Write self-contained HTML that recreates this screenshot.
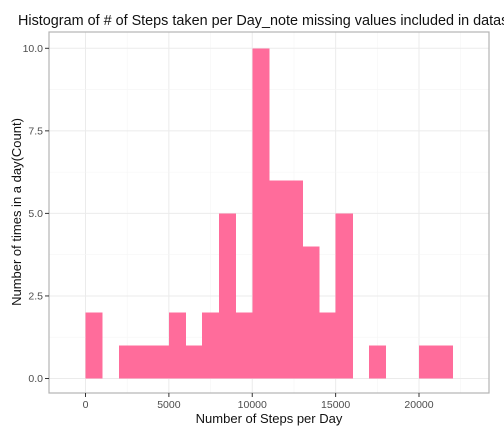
<!DOCTYPE html>
<html><head><style>body{margin:0;background:#fff}svg{display:block;font-family:"Liberation Sans",sans-serif}</style></head>
<body>
<svg id="c" width="504" height="432"></svg>
<script>
const binStarts=[0,1000,2000,3000,4000,5000,6000,7000,8000,9000,10000,11000,12000,13000,14000,15000,16000,17000,18000,19000,20000,21000];
const counts=[2,0,1,1,1,2,1,2,5,2,10,6,6,4,2,5,0,1,0,0,1,1];
const binWidth=1000;
const xTicks=[0,5000,10000,15000,20000];
const yTicks=[0,2.5,5,7.5,10];
const yTickLabels=["0.0","2.5","5.0","7.5","10.0"];
const svg=document.getElementById('c');const NS='http://www.w3.org/2000/svg';
const L=49,R=489,T=32,B=393;
const xs=v=>85.5+v*(419-85.5)/20000;
const ys=v=>378.5-v*(378.5-48.3)/10;
function mk(t,a,p){const e=document.createElementNS(NS,t);for(const k in a)e.setAttribute(k,a[k]);(p||svg).appendChild(e);return e;}
let e=mk('rect',{x:L,y:T,width:R-L,height:B-T,fill:'#fff'});


for(let v=-2500;v<=25000;v+=2500){const x=xs(v);if(x<L||x>R)continue;
e=mk('line',{x1:x,x2:x,y1:T,y2:B,stroke:v%5000===0?'#ebebeb':'#f5f5f5','stroke-width':v%5000===0?1:0.6});

}
for(let v=-1.25;v<=11.25;v+=1.25){const y=ys(v);if(y<T||y>B)continue;const major=Math.abs(v/2.5-Math.round(v/2.5))<1e-6;
e=mk('line',{x1:L,x2:R,y1:y,y2:y,stroke:major?'#ebebeb':'#f5f5f5','stroke-width':major?1:0.6});

}
binStarts.forEach((s,i)=>{if(!counts[i])return;const x0=xs(s),x1=xs(s+binWidth),y=ys(counts[i]);
const b=mk('rect',{x:x0,y:y,width:x1-x0+0.5,height:ys(0)-y,fill:'#FF6C9B','shape-rendering':'crispEdges'});

});
e=mk('rect',{x:L,y:T,width:R-L,height:B-T,fill:'none',stroke:'#b3b3b3','stroke-width':1.2});


xTicks.forEach(v=>{const x=xs(v);mk('line',{x1:x,x2:x,y1:B,y2:B+4,stroke:'#333'});
const t=mk('text',{x:x,y:B+15,'text-anchor':'middle','font-size':'10.5',fill:'#4d4d4d'});t.textContent=v;

});
yTicks.forEach((v,i)=>{const y=ys(v);mk('line',{x1:L-4,x2:L,y1:y,y2:y,stroke:'#333'});
const t=mk('text',{x:L-6,y:y+3.5,'text-anchor':'end','font-size':'10.5',fill:'#4d4d4d'});t.textContent=yTickLabels[i];

});
e=mk('text',{x:269,y:423,'text-anchor':'middle','font-size':'13',fill:'#111'});e.textContent='Number of Steps per Day';


e=mk('text',{x:0,y:0,'text-anchor':'middle','font-size':'13',fill:'#111',transform:'translate(21,212) rotate(-90)'});e.textContent='Number of times in a day(Count)';


e=mk('text',{x:18,y:25,'font-size':'14.4','fill':'#111'});e.textContent='Histogram of # of Steps taken per Day_note missing values included in dataset';


</script>
</body></html>
